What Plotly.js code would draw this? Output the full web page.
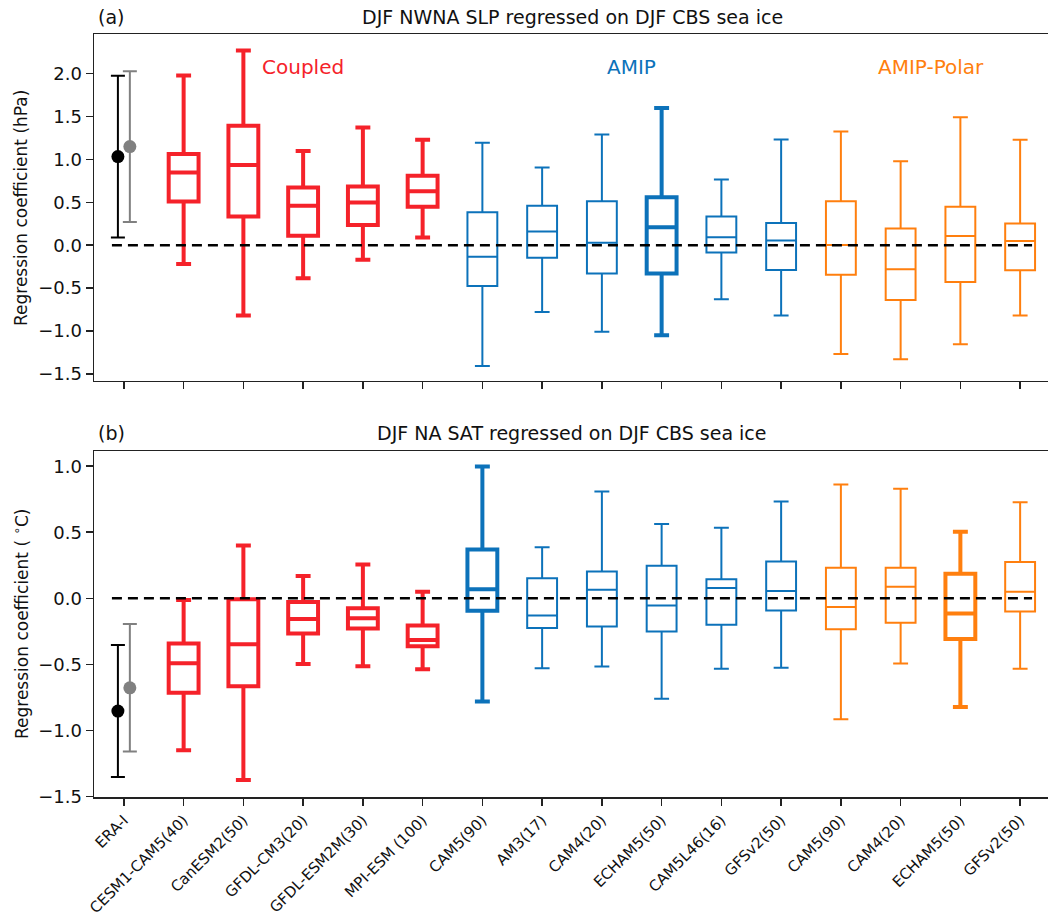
<!DOCTYPE html>
<html><head><meta charset="utf-8">
<script src="https://cdn.plot.ly/plotly-3.0.1.min.js"></script>
<style>html,body{margin:0;padding:0;overflow:hidden;background:#fff}#chart{width:1050px;height:917px}</style>
</head><body><div id="chart"></div>
<script>
// ---------- data ----------
const categories = ["ERA-I","CESM1-CAM5(40)","CanESM2(50)","GFDL-CM3(20)","GFDL-ESM2M(30)","MPI-ESM (100)",
  "CAM5(90)","AM3(17)","CAM4(20)","ECHAM5(50)","CAM5L46(16)","GFSv2(50)",
  "CAM5(90)","CAM4(20)","ECHAM5(50)","GFSv2(50)"];
const groupNames = ["Coupled","AMIP","AMIP-Polar"];
// group of each model (categories 1..15)
const modelGroup = [0,0,0,0,0, 1,1,1,1,1,1, 2,2,2,2];

// (a) DJF NWNA SLP (hPa), models 1..15
const slpLow  = [-0.22,-0.82,-0.385,-0.17,0.09,-1.41,-0.78,-1.01,-1.05,-0.63,-0.82,-1.27,-1.33,-1.155,-0.82];
const slpQ1   = [0.51,0.335,0.11,0.235,0.45,-0.475,-0.145,-0.33,-0.33,-0.086,-0.29,-0.343,-0.638,-0.428,-0.292];
const slpMed  = [0.847,0.937,0.46,0.497,0.63,-0.133,0.159,0.03,0.21,0.093,0.054,0.004,-0.28,0.109,0.05];
const slpQ3   = [1.065,1.392,0.672,0.684,0.809,0.385,0.459,0.513,0.56,0.334,0.26,0.513,0.194,0.45,0.252];
const slpHigh = [1.98,2.27,1.10,1.372,1.229,1.194,0.906,1.291,1.599,0.766,1.232,1.326,0.98,1.494,1.229];
const slpThick = [1,1,1,1,1, 0,0,0,1,0,0, 0,0,0,0];

// (b) DJF NA SAT (°C), models 1..15
const satLow  = [-1.151,-1.377,-0.497,-0.515,-0.538,-0.781,-0.530,-0.517,-0.761,-0.533,-0.527,-0.917,-0.495,-0.824,-0.533];
const satQ1   = [-0.716,-0.666,-0.266,-0.229,-0.364,-0.095,-0.226,-0.214,-0.251,-0.201,-0.093,-0.234,-0.186,-0.309,-0.100];
const satMed  = [-0.492,-0.349,-0.158,-0.151,-0.317,0.068,-0.131,0.065,-0.055,0.078,0.055,-0.066,0.088,-0.115,0.050];
const satQ3   = [-0.342,-0.008,-0.028,-0.075,-0.206,0.369,0.151,0.203,0.246,0.143,0.279,0.231,0.231,0.186,0.274];
const satHigh = [-0.013,0.399,0.168,0.256,0.050,0.997,0.387,0.809,0.563,0.533,0.733,0.861,0.829,0.503,0.726];
const satThick = [1,1,1,1,1, 1,0,0,0,0,0, 0,0,1,0];

// ERA-I estimates (two versions) with their uncertainty
const eraSlp = [1.034, 1.15];
const eraSlpErr = [0.943, 0.878];
const eraSat = [-0.854, -0.678];
const eraSatErr = [0.50, 0.483];

const yTicksA = [-1.5,-1.0,-0.5,0.0,0.5,1.0,1.5,2.0];
const yTicksB = [-1.5,-1.0,-0.5,0.0,0.5,1.0];

// ---------- styles ----------
const groupColors = ["#f5222a","#0c72ba","#ff7f0e"];
const eraColors = ["#000000","#808080"];
const FONT = "DejaVu Sans, Verdana, sans-serif";

const traces = [];
function addPanel(xa, ya, low, q1, med, q3, high, thick, era, eraErr) {
  for (let i = 0; i < low.length; i++) {
    const g = modelGroup[i];
    const th = thick[i] || g === 0;
    traces.push({
      type: "box", xaxis: xa, yaxis: ya, x: [i + 1],
      q1: [q1[i]], median: [med[i]], q3: [q3[i]], lowerfence: [low[i]], upperfence: [high[i]],
      width: 0.5, whiskerwidth: 0.5, boxpoints: false,
      line: {color: groupColors[g], width: th ? 4 : 2},
      fillcolor: "rgba(255,255,255,0)", showlegend: false, hoverinfo: "skip"
    });
  }
  for (let k = 0; k < era.length; k++) {
    traces.push({
      type: "scatter", mode: "markers", xaxis: xa, yaxis: ya,
      x: [k === 0 ? -0.1 : 0.1], y: [era[k]],
      marker: {color: eraColors[k], size: 13},
      error_y: {type: "data", array: [eraErr[k]], visible: true, color: eraColors[k], thickness: 2, width: 7},
      showlegend: false, hoverinfo: "skip"
    });
  }
  traces.push({
    type: "scatter", mode: "lines", xaxis: xa, yaxis: ya,
    x: [-0.2, categories.length - 1 + 0.2], y: [0, 0],
    line: {color: "#000", width: 2.5, dash: "10px,6px"},
    showlegend: false, hoverinfo: "skip"
  });
}
addPanel("x", "y", slpLow, slpQ1, slpMed, slpQ3, slpHigh, slpThick, eraSlp, eraSlpErr);
addPanel("x2", "y2", satLow, satQ1, satMed, satQ3, satHigh, satThick, eraSat, eraSatErr);

const tickIdx = categories.map((_, i) => i);
const H = 917;
const py = p => 1 - p / H;

function xAxis(anchor, labels) {
  return {
    anchor: anchor, domain: [0, 1], range: [-0.5, 15.5],
    tickmode: "array", tickvals: tickIdx, ticktext: categories,
    showticklabels: labels, tickangle: -45,
    ticks: "outside", ticklen: 7, tickwidth: 1.5, tickcolor: "#222",
    showline: true, mirror: true, linecolor: "#222", linewidth: 1.5,
    showgrid: false, zeroline: false,
    tickfont: {family: FONT, size: 15, color: "#111"}
  };
}
function yAxis(anchor, dom, range, ticks) {
  return {
    anchor: anchor, domain: dom, range: range,
    tickmode: "array", tickvals: ticks, ticktext: ticks.map(v => (v < 0 ? "\u2212" : "") + Math.abs(v).toFixed(1)),
    ticks: "outside", ticklen: 7, tickwidth: 1.5, tickcolor: "#222",
    showline: true, mirror: true, linecolor: "#222", linewidth: 1.5,
    showgrid: false, zeroline: false,
    tickfont: {family: FONT, size: 18, color: "#111"}
  };
}

const annotations = [
  {text: "(a)", xref: "paper", yref: "paper", x: 0.002, y: py(17), xanchor: "left", yanchor: "middle", showarrow: false, font: {family: FONT, size: 19, color: "#111"}},
  {text: "DJF NWNA SLP regressed on DJF CBS sea ice", xref: "paper", yref: "paper", x: 0.5, y: py(17), xanchor: "center", yanchor: "middle", showarrow: false, font: {family: FONT, size: 19, color: "#111"}},
  {text: "(b)", xref: "paper", yref: "paper", x: 0.002, y: py(433), xanchor: "left", yanchor: "middle", showarrow: false, font: {family: FONT, size: 19, color: "#111"}},
  {text: "DJF NA SAT regressed on DJF CBS sea ice", xref: "paper", yref: "paper", x: 0.5, y: py(433), xanchor: "center", yanchor: "middle", showarrow: false, font: {family: FONT, size: 19, color: "#111"}},
  {text: "Regression coefficient (hPa)", xref: "paper", yref: "paper", x: (21 - 94) / 956, y: py(208), xanchor: "center", yanchor: "middle", textangle: -90, showarrow: false, font: {family: FONT, size: 17, color: "#111"}},
  {text: "Regression coefficient ( <sup>\u2218</sup>C)", xref: "paper", yref: "paper", x: (21 - 94) / 956, y: py(624), xanchor: "center", yanchor: "middle", textangle: -90, showarrow: false, font: {family: FONT, size: 17, color: "#111"}}
];
groupNames.forEach((name, g) => {
  const idx = modelGroup.map((v, i) => v === g ? i + 1 : null).filter(v => v !== null);
  const cx = (idx[0] + idx[idx.length - 1]) / 2;
  annotations.push({text: name, xref: "x", yref: "y", x: cx, y: 2.08, xanchor: "center", yanchor: "middle",
    showarrow: false, font: {family: FONT, size: 20, color: groupColors[g]}});
});

const layout = {
  width: 1050, height: H,
  margin: {l: 94, r: 0, t: 0, b: 0},
  paper_bgcolor: "#fff", plot_bgcolor: "#fff",
  showlegend: false, boxmode: "overlay",
  xaxis: xAxis("y", false),
  yaxis: yAxis("x", [py(380.7), py(34.3)], [-1.58, 2.46], yTicksA),
  xaxis2: xAxis("y2", true),
  yaxis2: yAxis("x2", [py(797), py(451)], [-1.505, 1.115], yTicksB),
  annotations: annotations,
  font: {family: FONT, color: "#111"}
};
Plotly.newPlot("chart", traces, layout, {staticPlot: true, displayModeBar: false});
</script></body></html>
